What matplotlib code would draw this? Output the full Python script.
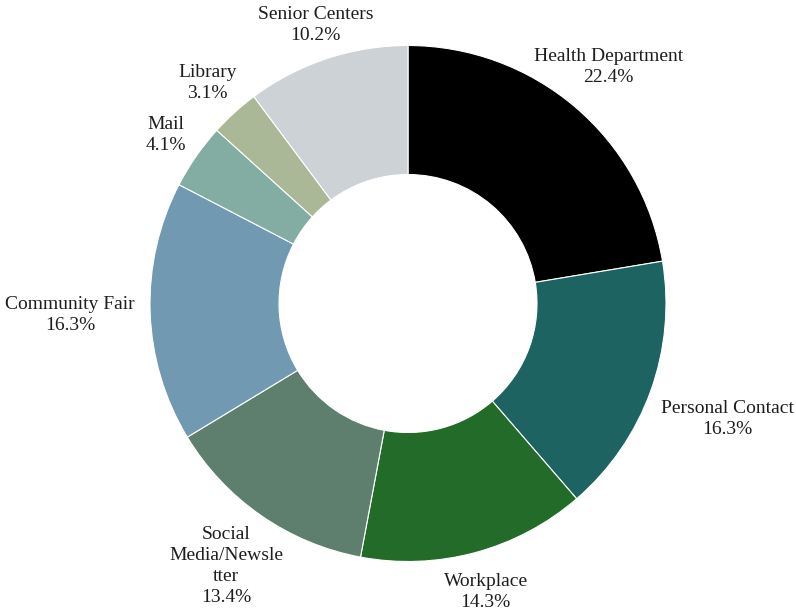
import numpy as np
import matplotlib
matplotlib.use("Agg")
import matplotlib.pyplot as plt

# Where people heard about the program (share of responses, %)
categories = ["Health Department", "Personal Contact", "Workplace",
              "Social Media/Newsletter", "Community Fair", "Mail",
              "Library", "Senior Centers"]
shares = [22.4, 16.3, 14.3, 13.4, 16.3, 4.1, 3.1, 10.2]
label_texts = ["Health Department", "Personal Contact", "Workplace",
               "Social\nMedia/Newsle\ntter", "Community Fair", "Mail",
               "Library", "Senior Centers"]

colors = ["#000000", "#1d6361", "#236b28", "#5e7f6e",
          "#7199b1", "#83ada3", "#aab897", "#cdd2d6"]
# radial distance of each label centre, in units of the outer radius
label_radius = [1.20, 1.318, 1.157, 1.237, 1.31, 1.144, 1.156, 1.136]

W, H = 796, 616
cx, cy = 408, 303.5
R = 258.0

fig = plt.figure(figsize=(W / 100, H / 100), dpi=100)
ax = fig.add_axes([0, 0, 1, 1])

wedges, _ = ax.pie(shares, colors=colors, startangle=90, counterclock=False,
                   radius=R, center=(0, 0),
                   wedgeprops=dict(width=R * 0.5, edgecolor="white", linewidth=0.8))

# pie() resets the limits, so set the pixel-sized view afterwards
ax.set_xlim(-cx, W - cx)
ax.set_ylim(-(H - cy), cy)
ax.set_aspect("equal")
ax.axis("off")

for w, txt, val, f in zip(wedges, label_texts, shares, label_radius):
    mid = np.deg2rad((w.theta1 + w.theta2) / 2)
    x, y = R * f * np.cos(mid), R * f * np.sin(mid)
    ax.text(x, y, f"{txt}\n{val}%", ha="center", va="center",
            family="Liberation Serif", fontsize=14, color="#1e1e1e",
            linespacing=1.3, multialignment="center")

fig.savefig("out.png", dpi=100)
